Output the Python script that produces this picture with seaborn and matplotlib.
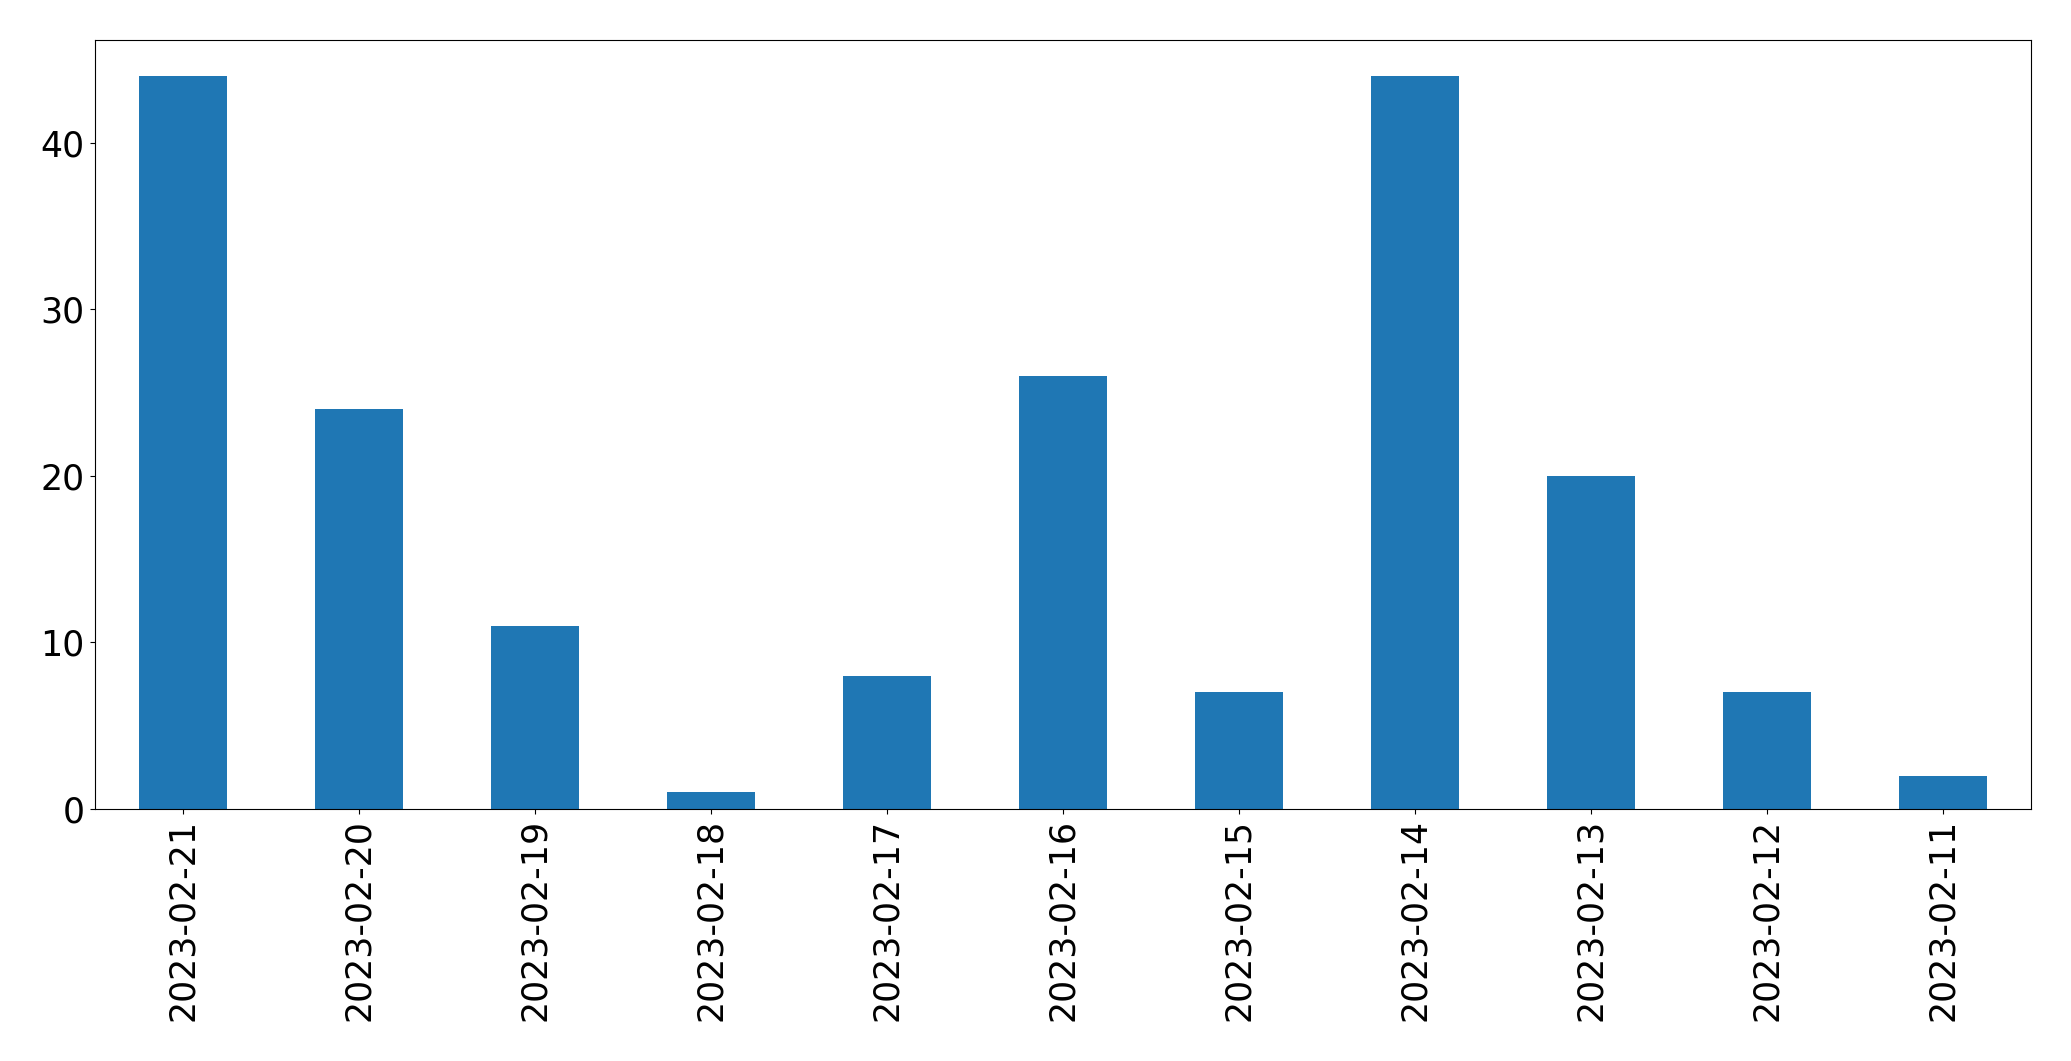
import matplotlib
matplotlib.use("Agg")
import matplotlib.pyplot as plt
import seaborn as sns
import pandas as pd

dates = ["2023-02-21", "2023-02-20", "2023-02-19", "2023-02-18", "2023-02-17",
         "2023-02-16", "2023-02-15", "2023-02-14", "2023-02-13", "2023-02-12",
         "2023-02-11"]
counts = [44, 24, 11, 1, 8, 26, 7, 44, 20, 7, 2]

df = pd.DataFrame({"date": dates, "count": counts})

fig = plt.figure(figsize=(20.71, 10.61), dpi=100)
ax = fig.add_axes([94.5 / 2071, 1 - 809 / 1061, (2031 - 94.5) / 2071, (809 - 39.5) / 1061])
sns.barplot(data=df, x="date", y="count", order=dates, color="#1f77b4",
            saturation=1, width=0.5, ax=ax)
ax.set_xlim(-0.5, len(dates) - 0.5)
ax.set_ylim(0, 46.2)
ax.set_yticks([0, 10, 20, 30, 40])
ax.set_xlabel("")
ax.set_ylabel("")
ax.tick_params(axis="both", labelsize=25)
ax.tick_params(axis="x", rotation=90)
fig.savefig("out.png", dpi=100)
